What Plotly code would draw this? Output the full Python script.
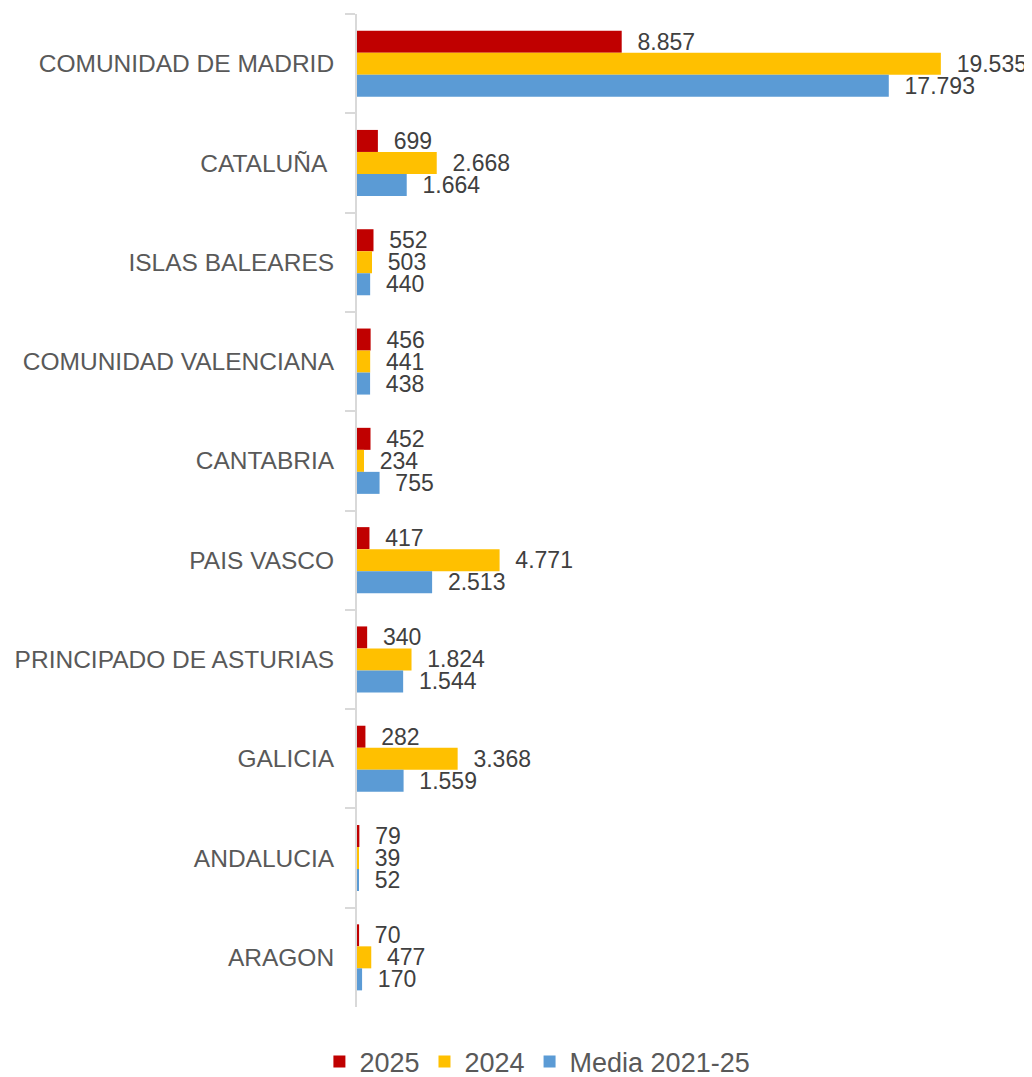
import plotly.graph_objects as go

categories = ["COMUNIDAD DE MADRID", "CATALUÑA\u00a0", "ISLAS BALEARES", "COMUNIDAD VALENCIANA",
              "CANTABRIA", "PAIS VASCO", "PRINCIPADO DE ASTURIAS", "GALICIA", "ANDALUCIA", "ARAGON"]
v2025 = [8857, 699, 552, 456, 452, 417, 340, 282, 79, 70]
v2024 = [19535, 2668, 503, 441, 234, 4771, 1824, 3368, 39, 477]
media = [17793, 1664, 440, 438, 755, 2513, 1544, 1559, 52, 170]

series = [("2025", v2025, "#C00000"), ("2024", v2024, "#FFC000"), ("Media 2021-25", media, "#5B9BD5")]

fig = go.Figure()
for name, vals, color in series:
    fig.add_trace(go.Bar(
        y=categories, x=vals, name=name, orientation="h",
        marker=dict(color=color, line=dict(width=0)),
        texttemplate="\u00a0\u00a0%{x:,}", textposition="outside",
        textfont=dict(family="Liberation Sans, Arial", size=23, color="#404040"),
        constraintext="none", cliponaxis=False,
    ))

fig.update_layout(
    width=1024, height=1069,
    margin=dict(l=349, r=10, t=6, b=70, autoexpand=False),
    barmode="group", bargap=0.335, bargroupgap=0,
    separators=",.",
    plot_bgcolor="white", paper_bgcolor="white",
    font=dict(family="Liberation Sans, Arial", color="#595959"),
    showlegend=True,
    legend=dict(orientation="h", xref="container", yref="container",
                x=0.517, xanchor="center", y=0.014, yanchor="middle",
                font=dict(size=27, color="#595959"), traceorder="normal"),
)
fig.update_xaxes(range=[0, 22250], showticklabels=False, showgrid=False, zeroline=False,
                 showline=False, automargin=False)
fig.update_yaxes(autorange="reversed", showline=True, linecolor="#D9D9D9", linewidth=2,
                 ticks="outside", ticklen=10, tickcolor="#D9D9D9", tickwidth=2,
                 tickson="boundaries", ticklabelstandoff=16, automargin=False,
                 tickfont=dict(size=24.5, color="#595959"), showgrid=False)

fig.write_html("out.html")
